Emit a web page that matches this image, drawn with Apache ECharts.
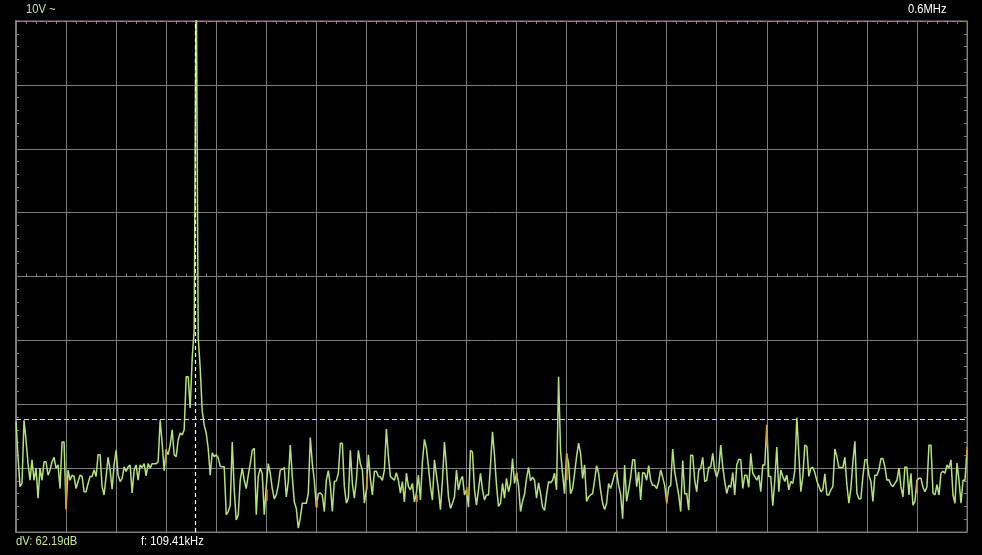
<!DOCTYPE html>
<html>
<head>
<meta charset="utf-8">
<script src="https://cdn.jsdelivr.net/npm/echarts@6/dist/echarts.min.js"></script>
<style>
html,body{margin:0;padding:0;background:#000;}
#chart{width:982px;height:555px;}
</style>
</head>
<body>
<div id="chart"></div>
<script>
// Spectrum levels, one per frequency bin (units: dB above screen bottom, 10 per division)
const levels = [
17.3, 11.8, 7.1, 7.6, 17.5, 14.4, 10.7, 8.1, 11.3, 8.1,
10.0, 5.3, 10.0, 8.1, 11.0, 11.0, 8.9, 9.7, 11.0, 11.7,
10.0, 10.5, 6.8, 14.1, 14.1, 3.7, 9.7, 8.1, 8.9, 8.7,
6.8, 7.9, 8.9, 8.7, 6.3, 6.3, 7.6, 8.7, 8.7, 9.7,
8.7, 12.1, 12.1, 7.1, 5.8, 8.7, 11.7, 9.7, 6.7, 10.5,
12.8, 8.9, 7.9, 8.4, 10.2, 9.5, 10.2, 10.5, 6.1, 9.7,
10.5, 8.1, 10.5, 10.1, 10.7, 8.8, 10.7, 10.0, 10.7, 10.7,
10.7, 11.0, 17.5, 13.9, 9.6, 12.8, 12.1, 13.6, 16.0, 12.1,
11.8, 14.4, 15.5, 15.2, 16.0, 24.3, 24.3, 19.4, 27.2, 31.6,
90, 30.5, 25.7, 19.0, 16.7, 15.5, 13.1, 8.9, 12.4, 11.8,
12.1, 11.6, 10.3, 10.2, 10.2, 2.7, 3.2, 4.2, 14.1, 6.6,
1.9, 2.7, 8.1, 10.0, 8.1, 6.8, 8.9, 10.7, 12.8, 13.1,
2.7, 8.7, 10.0, 9.1, 2.7, 7.1, 10.7, 9.2, 6.8, 5.2,
5.8, 7.3, 9.7, 9.8, 10.1, 5.5, 7.9, 13.6, 8.7, 4.7,
3.7, 0.6, 2.2, 4.5, 4.5, 4.5, 6.1, 14.8, 10.7, 8.1,
3.9, 6.0, 6.1, 5.8, 3.2, 8.1, 9.6, 7.3, 3.2, 7.9,
8.0, 9.2, 13.9, 13.9, 7.1, 4.5, 5.3, 12.8, 7.6, 5.3,
8.1, 12.8, 10.7, 9.7, 4.5, 6.6, 12.1, 8.4, 5.8, 9.5,
9.5, 8.7, 8.6, 8.1, 9.7, 16.1, 11.8, 8.7, 8.4, 8.1,
9.3, 8.1, 6.1, 7.9, 4.7, 9.2, 7.1, 6.6, 7.6, 4.7,
6.1, 8.9, 5.0, 11.0, 14.5, 13.1, 10.2, 7.1, 5.0, 11.3,
8.9, 6.6, 3.5, 8.1, 14.1, 10.2, 5.5, 3.7, 4.5, 5.5,
9.7, 6.6, 8.1, 8.7, 5.8, 6.6, 3.9, 12.8, 12.5, 6.6,
4.2, 6.6, 9.2, 6.6, 5.0, 5.8, 5.8, 10.5,
15.7, 12.0, 7.3, 4.0, 4.5, 7.6, 5.3, 8.4, 6.3, 7.6,
11.5, 7.6, 9.2, 7.3, 3.2, 4.8, 5.9, 8.4, 10.1, 8.0,
8.6, 8.1, 5.3, 7.7, 6.0, 3.9, 3.4, 5.8, 7.9, 7.7,
8.1, 9.2, 6.6, 24.3, 12.6, 9.1, 6.0, 12.3, 10.7, 6.0,
6.8, 9.2, 11.8, 13.9, 12.3, 8.4, 10.5, 4.8, 5.5, 5.8,
6.0, 8.1, 10.4, 9.2, 6.5, 4.5, 3.5, 4.5, 7.6, 6.8,
7.9, 9.1, 9.4, 7.3, 5.9, 2.1, 10.5, 4.8, 6.6, 8.6,
11.3, 11.3, 7.1, 9.4, 5.0, 9.3, 9.2, 8.1, 10.4, 8.1,
7.3, 7.3, 6.8, 7.9, 9.7, 8.6, 7.3, 4.5, 7.0, 7.3,
13.0, 9.4, 7.6, 5.8, 3.2, 11.2, 6.0, 6.0, 3.4, 12.0,
12.0, 8.1, 6.3, 9.7, 10.0, 11.7, 7.9, 8.1, 10.1, 10.2,
12.3, 9.7, 8.6, 9.7, 13.6, 10.2, 7.9, 6.0, 7.3,
7.0, 9.3, 5.8, 10.5, 11.4, 11.3, 6.8, 8.9, 8.9, 7.0,
12.3, 9.2, 8.7, 8.1, 8.9, 6.3, 10.5, 10.5, 16.8, 8.7,
8.7, 4.1, 8.1, 13.3, 6.3, 9.7, 8.7, 7.9, 8.9, 6.6,
7.9, 7.6, 9.7, 17.9, 12.3, 6.3, 8.7, 13.6, 13.4, 8.7,
10.0, 10.1, 9.3, 8.0, 7.2, 6.3, 6.6, 9.1, 5.8, 5.8,
6.6, 7.1, 13.0, 11.8, 10.1, 10.1, 10.1, 11.7, 7.4, 4.5,
6.8, 11.0, 14.2, 6.1, 5.2, 5.2, 8.7, 11.3, 11.3, 8.9,
7.9, 4.8, 8.9, 8.9, 9.7, 11.5, 11.5, 10.2, 8.1, 8.2,
7.4, 7.1, 7.6, 8.1, 10.0, 7.1, 5.5, 10.2, 10.1, 5.8,
9.2, 4.2, 4.8, 8.1, 8.4, 8.4, 7.0, 6.3, 7.1, 13.6,
13.6, 6.1, 5.8, 7.4, 5.8, 9.2, 9.5, 9.2, 10.5, 10.0,
11.3, 5.8, 4.5, 10.8, 8.1, 4.5, 8.1, 8.1, 12.8
];
// Segments of the trace drawn where it crosses a vertical grid line: [bin, low, high]
const overlapSegments = [
  [25, 3.5, 8.6], [75, 11.0, 13.0], [125, 4.9, 6.7], [150, 3.8, 5.1],
  [175, 6.6, 9.2], [200, 4.7, 5.8], [225, 5.6, 7.0], [250, 8.4, 9.3],
  [275, 8.1, 12.3], [300, 9.1, 9.7], [325, 4.5, 6.0], [375, 13.6, 16.7],
  [450, 6.1, 7.7], [475, 11.7, 13.3]
];
const binCount = 475;          // last bin index (full span)
const cursorBin = 89.6;        // frequency cursor
const cursorLevel = 17.6;      // level cursor
const levelMax = 80;           // 8 divisions
const topLeftLabel = '10V ~';
const topRightLabel = '0.6MHz';
const bottomLeftLabel = 'dV: 62.19dB';
const bottomMidLabel = 'f: 109.41kHz';

const GRID = '#7d7d7d';
const TRACE = '#b2e27a';
const FONT = "'Liberation Sans', Arial, sans-serif";

const chart = echarts.init(document.getElementById('chart'), null, {renderer: 'canvas'});
const rect = {left: 16, right: 15, top: 21, bottom: 23};

function label(text, x, y, color) {
  return {type: 'text', x: x, y: y, scaleX: 0.86, scaleY: 1, silent: true,
    style: {text: text, fill: color, font: '13px ' + FONT, align: 'left', verticalAlign: 'top'}};
}

const option = {
  backgroundColor: '#000',
  animation: false,
  grid: [
    Object.assign({show: true, borderColor: GRID, borderWidth: 1, containLabel: false}, rect),
    Object.assign({show: false, containLabel: false}, rect)
  ],
  xAxis: [
    {gridIndex: 0, type: 'value', min: 0, max: binCount, interval: 25,
     axisLine: {show: false}, axisTick: {show: false}, axisLabel: {show: false},
     splitLine: {show: true, lineStyle: {color: GRID, width: 1}}},
    {gridIndex: 1, type: 'value', min: 0, max: binCount, interval: 5, position: 'bottom',
     axisLine: {show: true, onZero: true, lineStyle: {color: GRID}},
     axisTick: {show: true, inside: true, length: 3, lineStyle: {color: GRID}},
     axisLabel: {show: false}, splitLine: {show: false}},
    {gridIndex: 1, type: 'value', min: 0, max: binCount, interval: 5, position: 'top',
     axisLine: {show: true, onZero: true, lineStyle: {color: GRID}},
     axisTick: {show: true, inside: true, length: 3, lineStyle: {color: GRID}},
     axisLabel: {show: false}, splitLine: {show: false}}
  ],
  yAxis: [
    {gridIndex: 0, type: 'value', min: 0, max: levelMax, interval: 10, position: 'left',
     axisLine: {show: true, lineStyle: {color: GRID, width: 2}},
     axisTick: {show: true, inside: true, length: 3, lineStyle: {color: GRID}},
     minorTick: {show: true, splitNumber: 5, length: 3, lineStyle: {color: GRID}},
     axisLabel: {show: false},
     splitLine: {show: true, lineStyle: {color: GRID, width: 1}}},
    {gridIndex: 0, type: 'value', min: 0, max: levelMax, interval: 10, position: 'right',
     axisLine: {show: true, lineStyle: {color: GRID, width: 1}},
     axisTick: {show: true, inside: true, length: 3, lineStyle: {color: GRID}},
     minorTick: {show: true, splitNumber: 5, length: 3, lineStyle: {color: GRID}},
     axisLabel: {show: false}, splitLine: {show: false}},
    {gridIndex: 1, type: 'value', min: -levelMax / 2, max: levelMax / 2, show: false}
  ],
  series: [
    {
      type: 'line', xAxisIndex: 0, yAxisIndex: 0,
      data: levels.map((v, i) => [i, v]),
      showSymbol: false, symbol: 'none', clip: true, silent: true,
      lineStyle: {color: TRACE, width: 1.5},
      markLine: {
        silent: true, symbol: 'none', animation: false,
        label: {show: false},
        data: [
          {xAxis: cursorBin, lineStyle: {color: '#ffffff', type: [4, 3], width: 1.2}},
          {yAxis: cursorLevel, lineStyle: {color: '#d4e684', type: [5, 3], width: 1.2}},
          {yAxis: levelMax, lineStyle: {color: '#c8901e', type: [4, 4], width: 1}}
        ]
      }
    },
    {
      type: 'line', xAxisIndex: 0, yAxisIndex: 0, data: [], silent: true,
      markLine: {
        silent: true, symbol: 'none', animation: false, label: {show: false},
        lineStyle: {color: '#e08a10', type: 'solid', width: 1.5},
        data: overlapSegments.map(s => [{coord: [s[0], s[1]]}, {coord: [s[0], s[2]]}])
      }
    }
  ],
  graphic: [
    label(topLeftLabel, 26, 2.5, '#c4e690'),
    label(topRightLabel, 908, 2.5, '#ffffff'),
    label(bottomLeftLabel, 16, 534.5, '#c4e690'),
    label(bottomMidLabel, 141, 534.5, '#ffffff')
  ]
};
chart.setOption(option);
</script>
</body>
</html>
